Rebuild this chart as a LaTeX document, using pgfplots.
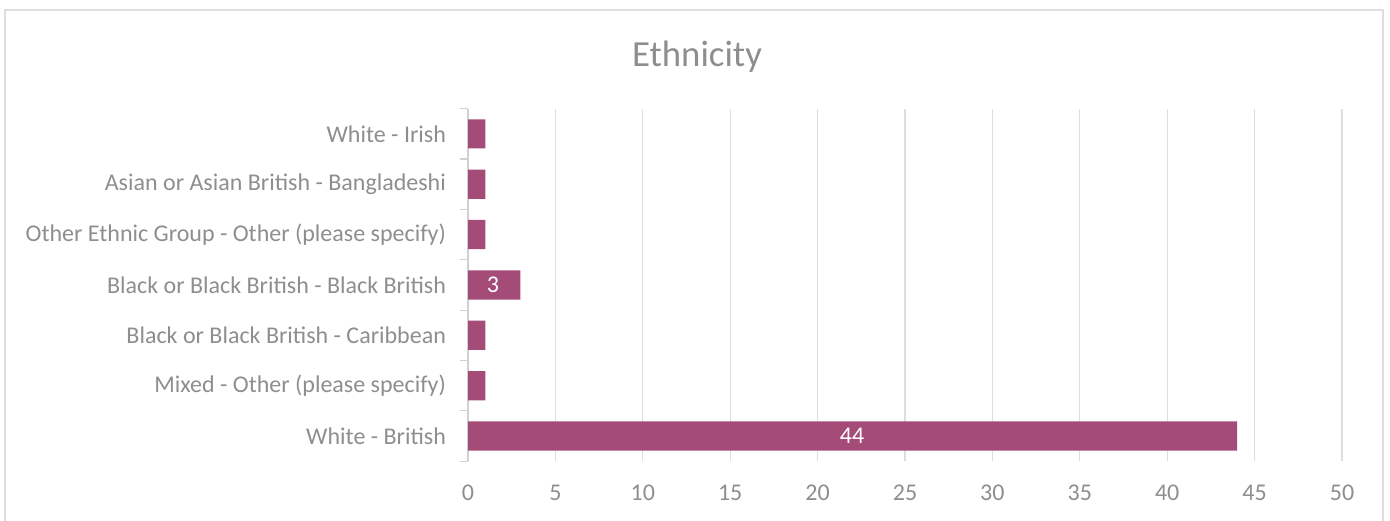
\documentclass[border=0pt]{standalone}
\usepackage{pgfplots}
\pgfplotsset{compat=1.18}
\usepackage{fontspec}
\setmainfont{Carlito}
\definecolor{barc}{HTML}{A54B78}
\definecolor{txt}{HTML}{8E8E90}
\definecolor{gridc}{HTML}{DEDEDE}
\definecolor{axc}{HTML}{D0D0D0}
\begin{document}
\begin{tikzpicture}
\useasboundingbox (0,0) rectangle (695pt,260pt);
\draw[color=gridc, line width=0.6pt] (2.5pt,-1pt) -- (2.5pt,255pt) -- (691.5pt,255pt) -- (691.5pt,-1pt);
\node[text=txt, font=\fontsize{18.4}{22}\selectfont] at (348.5pt,231.5pt) {Ethnicity};
\begin{axis}[
  at={(234pt,29.4pt)}, anchor=south west,
  scale only axis, width=437pt, height=176.25pt,
  xmin=0, xmax=50, ymin=-0.5, ymax=6.5,
  xtick={0,5,...,50},
  ytick={0,...,6},
  yticklabels={White - British, Mixed - Other (please specify), Black or Black British - Caribbean, Black or Black British - Black British, Other Ethnic Group - Other (please specify), Asian or Asian British - Bangladeshi, White - Irish},
  minor ytick={-0.5,0.5,...,6.5},
  major tick length=0pt, minor tick length=4pt, tick align=outside,
  minor y tick style={draw=axc, line width=0.6pt},
  axis lines*=left,
  x axis line style={draw=none},
  y axis line style={draw=axc, line width=0.6pt, -},
  xmajorgrids,
  major x grid style={draw=gridc, line width=0.6pt},
  tick label style={font=\fontsize{12}{14}\selectfont, text=txt},
  /pgf/number format/assume math mode=true,
  xticklabel style={yshift=-8.5pt},
  yticklabel style={xshift=-7.5pt},
  bar width=0.58,
]
\addplot[xbar, fill=barc, draw=none] coordinates {(44,0) (1,1) (1,2) (3,3) (1,4) (1,5) (1,6)};
\addplot[draw=none, nodes near coords, point meta=explicit symbolic,
  every node near coord/.append style={anchor=center, text=white, font=\fontsize{12}{14}\selectfont}]
  coordinates {(1.43,3) [3] (21.97,0) [44]};
\end{axis}
\end{tikzpicture}
\end{document}
